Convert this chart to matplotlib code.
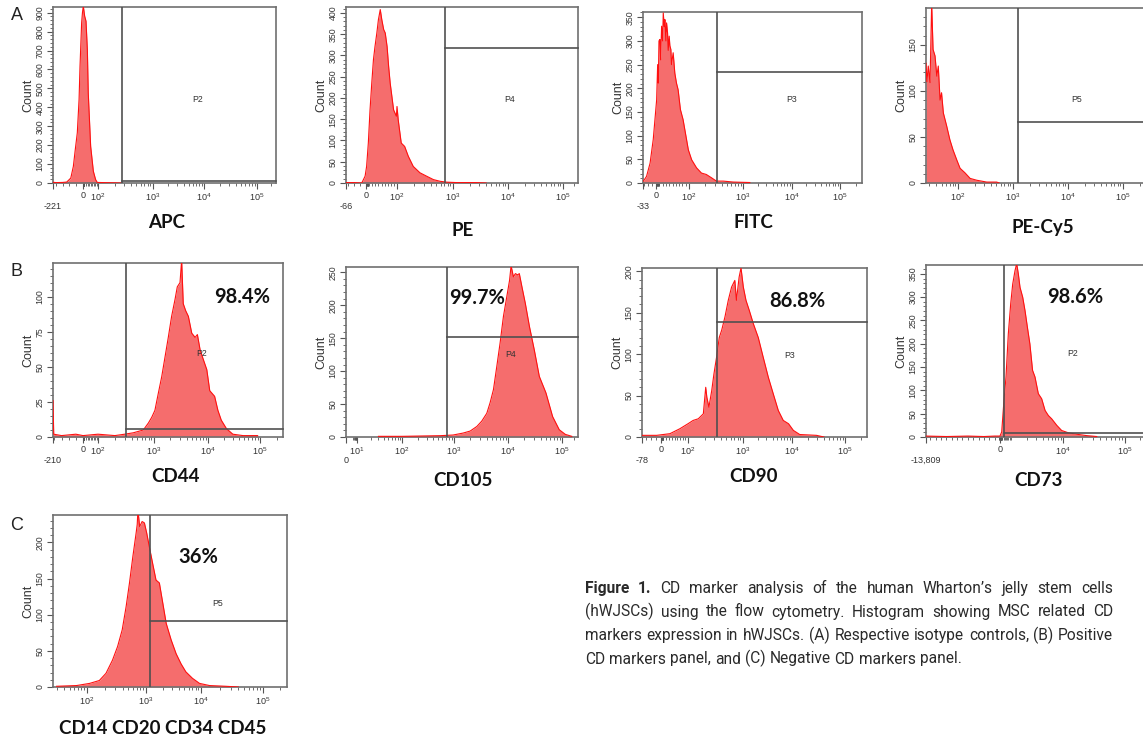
import numpy as np
import matplotlib.pyplot as plt

plt.rcParams['font.family'] = 'Liberation Sans'
plt.rcParams['mathtext.default'] = 'regular'

W, H = 1143, 738

# event counts, x = fluorescence intensity
apc_x = [-221, -200, -150, -120, -90, -71, -57, -42, -29, -22, -10, -4, 2, 11, 20, 29, 35, 51, 69, 84, 95, 130, 200, 260]
apc_n = [4, 2, 3, 5, 26, 88, 176, 265, 441, 617, 847, 900, 935, 882, 855, 705, 476, 194, 62, 18, 3, 2, 1, 0]

pe_x = [-66, -40, -14, -3, 2, 7.5, 13, 18.6, 24, 29, 35, 40, 46, 51, 57, 62, 68, 73, 78, 89, 98,
        100, 105, 119, 137, 159, 195, 257, 338, 447, 588, 770, 1150, 2600, 4000]
pe_n = [1, 1, 0, 16, 39, 94, 172, 235, 290, 321, 353, 384, 408, 384, 361, 353, 321, 274, 235, 172, 157,
        180, 149, 94, 86, 63, 39, 24, 16, 8, 4, 2, 1, 1, 0]

fitc_x = [-32, -24, -15, -7, 2, 5, 7, 9, 12, 14, 17, 20, 22, 25, 27, 30, 32, 35, 37, 40, 42, 45, 47, 52,
          57, 62, 67, 74, 82, 89, 98, 112, 138, 170, 209, 261, 322, 432, 657, 1380]
fitc_n = [4, 14, 42, 92, 176, 250, 211, 300, 303, 260, 331, 300, 359, 330, 345, 300, 338, 317, 280, 310,
          290, 282, 250, 275, 232, 211, 197, 155, 134, 106, 70, 49, 32, 21, 18, 11, 4, 4, 2, 1]

pecy5_x = [26, 27, 28.6, 30.8, 33, 35, 38, 41, 43.6, 47, 50, 54, 62, 71, 81, 95, 109, 134, 166, 219, 333, 505, 560]
pecy5_n = [130, 110, 127, 109, 195, 145, 138, 116, 127, 90, 98, 76, 62, 47, 36, 25, 16, 11, 5, 3, 1, 1, 0]

cd44_x = [-210, -205, -150, -50, 0, 100, 200, 300, 427, 645, 795, 910, 1040, 1200, 1390, 1600, 1840, 2120,
          2450, 2700, 3030, 3250, 3480, 3860, 4330, 5000, 5770, 6360, 7150, 8230, 9500, 10800, 13400,
          15500, 18000, 22600, 30000, 47000, 90000]
cd44_n = [26, 2, 1, 2, 1, 2, 1, 2, 3, 5, 10, 14, 19, 31, 43, 57, 71, 86, 98, 107, 110, 126, 95, 90, 86,
          74, 71, 73, 62, 55, 48, 33, 29, 19, 12, 6, 2, 1, 1]

cd105_x = [30, 100, 545, 960, 1480, 1990, 2650, 3260, 4050, 4660, 5380, 6200, 7120, 8230, 9500, 10700,
           11400, 12600, 13700, 15100, 16200, 18100, 20900, 24900, 30700, 38000, 50400, 67000, 89000,
           122000, 180000]
cd105_n = [1, 1, 2, 3, 6, 9, 16, 24, 36, 52, 72, 107, 142, 183, 213, 238, 260, 243, 248, 246, 248, 228,
           203, 168, 132, 92, 67, 31, 11, 4, 1]

cd90_x = [-78, -18, 33, 70, 100, 124, 154, 190, 210, 220, 240, 270, 296, 330, 370, 410, 470, 540, 620,
          710, 760, 850, 920, 1015, 1150, 1340, 1620, 2050, 2590, 3290, 4150, 5250, 6630, 8500, 10600,
          14000, 29000, 40000]
cd90_n = [2, 2, 4, 10, 16, 20, 22, 28, 60, 48, 36, 56, 76, 96, 120, 129, 145, 165, 181, 189, 165, 193,
          204, 181, 165, 153, 137, 120, 96, 72, 52, 32, 20, 16, 8, 3, 2, 0]

cd73_x = [-13809, -10000, -6000, -3000, -1000, 0, 142, 333, 500, 692, 892, 1032, 1146, 1236, 1330, 1436,
          1620, 1800, 2000, 2240, 2530, 2820, 3280, 3820, 4450, 5170, 6000, 7550, 9400, 12200, 16500,
          24000, 35000]
cd73_n = [2, 1, 2, 1, 2, 2, 11, 79, 129, 221, 286, 328, 357, 372, 350, 321, 300, 271, 236, 200, 143,
          129, 93, 82, 57, 46, 39, 25, 14, 9, 6, 3, 1]

neg_x = [30, 66, 111, 162, 210, 270, 330, 395, 460, 525, 600, 680, 710, 730, 780, 860, 940, 1030, 1150,
         1320, 1520, 1750, 2020, 2330, 2870, 3530, 4340, 5300, 7000, 9400, 13700, 25000, 40000]
neg_n = [1, 2, 5, 9, 19, 37, 56, 79, 111, 144, 181, 213, 225, 245, 222, 229, 227, 213, 194, 171, 148,
         144, 116, 88, 65, 46, 32, 21, 12, 5, 2, 1, 0]

markers = ['APC', 'PE', 'FITC', 'PE-Cy5', 'CD44', 'CD105', 'CD90', 'CD73', 'CD14 CD20 CD34 CD45']
gate_names = ['P2', 'P4', 'P3', 'P5', 'P2', 'P4', 'P3', 'P2', 'P5']
gate_x = [277, 714, 330, 1230, 316, 745, 340, 333, 1200]
gate_y = [10, 318, 234, 66, 5.5, 152, 139, 9, 91]
percents = [None, None, None, None, '98.4%', '99.7%', '86.8%', '98.6%', '36%']
xmins = [-221, -66, -33, 26, -210, 0, -78, -13809, 26]
XMAX = 262143

series = [(apc_x, apc_n), (pe_x, pe_n), (fitc_x, fitc_n), (pecy5_x, pecy5_n), (cd44_x, cd44_n),
          (cd105_x, cd105_n), (cd90_x, cd90_n), (cd73_x, cd73_n), (neg_x, neg_n)]

# layout (pixels): axes left/top/bottom, anchor pixels for the logicle-like x scale
layout = [
    dict(box=(53, 7, 183), ap=[0, 30, 45, 100, 151, 204, 223], t=100, ymax=930, ystep=100, ymin_step=20, neg=50,
         lab=(167, 222), gl=(198, 99)),
    dict(box=(346, 7, 183), ap=[0, 20, 51, 107, 162, 217, 232], t=100, ymax=414, ystep=50, ymin_step=10, neg=20,
         lab=(463, 230), gl=(510, 99)),
    dict(box=(643, 12, 183), ap=[0, 13, 46, 100, 149, 197, 219], t=100, ymax=361, ystep=50, ymin_step=10, neg=10,
         lab=(753, 222), gl=(792, 99)),
    dict(box=(926, 8, 183), ap=[0, 32, 87, 142, 197, 220], t=1, ymax=190, ystep=50, ymin_step=10, neg=None,
         lab=(1043, 228), gl=(1077, 99)),
    dict(box=(53, 263, 437), ap=[0, 30, 45, 101, 155, 207, 230], t=100, ymax=124, ystep=25, ymin_step=5, neg=50,
         lab=(175, 477), gl=(202, 353), pl=(242, 297)),
    dict(box=(346, 267, 437), ap=[0, 11, 56, 108, 162, 216, 232], t=1, ymax=258, ystep=50, ymin_step=10, neg=None,
         lab=(463, 480), gl=(511, 354), pl=(477, 298)),
    dict(box=(642, 268, 437), ap=[0, 19, 46, 101, 150, 203, 225], t=100, ymax=204, ystep=50, ymin_step=10, neg=20,
         lab=(753, 477), gl=(790, 355), pl=(797, 301)),
    dict(box=(926, 265, 437), ap=[0, 74, 86, 137, 199, 220], t=1000, ymax=369, ystep=50, ymin_step=10, neg=1000,
         lab=(1038, 480), gl=(1073, 353), pl=(1075, 297)),
    dict(box=(53, 515, 687), ap=[0, 34, 93, 148, 210, 234], t=1, ymax=238, ystep=50, ymin_step=10, neg=None,
         lab=(163, 728), gl=(218, 603), pl=(198, 557)),
]

FILL = '#f56d6d'
LINE = '#ff1010'
GATE = '#505050'
FRAME = '#707070'


def make_scale(av, ap, t):
    def g(v):
        v = np.asarray(v, dtype=float)
        return np.where(v < t, v / t, 1 + np.log10(np.maximum(v, t) / t))
    gv = g(av)
    ap = np.asarray(ap, dtype=float)

    def fwd(v):
        return np.interp(g(v), gv, ap)

    def inv(p):
        q = np.interp(np.asarray(p, dtype=float), ap, gv)
        return np.where(q < 1, q * t, t * 10 ** (q - 1))
    return fwd, inv


def anchor_values(xmin, t):
    vals = [xmin]
    if xmin < 0:
        vals.append(0)
    if xmin == 0:
        vals.append(10)
    vals += [d for d in (100, 1e3, 1e4, 1e5) if d > xmin and not (t == 1000 and d == 100)]
    return vals + [XMAX]


def tick_values(xmin, t):
    vals = []
    if xmin <= 0:
        vals.append(xmin)
    if xmin < 0:
        vals.append(0)
    if xmin == 0:
        vals.append(10)
    vals += [d for d in (100, 1e3, 1e4, 1e5) if d > xmin and not (t == 1000 and d < 1e4)]
    return vals


def tick_text(v, first):
    if v == 0:
        return '\n0' if first else '0'
    if v < 0:
        return '\n' + format(int(v), ',')
    return '$10^{%d}$' % round(np.log10(v))


fig = plt.figure(figsize=(W / 100, H / 100), dpi=100)

for i, L in enumerate(layout):
    xs, ns = series[i]
    left, top, bottom = L['box']
    ap = L['ap']
    xmin = xmins[i]
    av = anchor_values(xmin, L['t'])
    ax = fig.add_axes([left / W, 1 - bottom / H, ap[-1] / W, (bottom - top) / H])
    ax.set_xscale('function', functions=make_scale(av, ap, L['t']))
    ax.set_xlim(av[0], av[-1])
    ax.set_ylim(0, L['ymax'])

    ax.fill_between(xs, ns, color=FILL, lw=0, zorder=2)
    ax.plot(xs, ns, color=LINE, lw=0.8, zorder=3)
    ax.axvline(gate_x[i], color=GATE, lw=1.2, zorder=4)
    ax.plot([gate_x[i], XMAX], [gate_y[i], gate_y[i]], color=GATE, lw=1.2, zorder=4, clip_on=False)

    for s in ax.spines.values():
        s.set_color(FRAME)
        s.set_linewidth(1.2)

    major = tick_values(xmin, L['t'])
    ax.set_xticks(major, [tick_text(v, k == 0) for k, v in enumerate(major)])
    minor = [m * d for d in (1, 10, 100, 1e3, 1e4, 1e5) for m in range(2, 10)]
    minor = [v for v in minor if xmin < v < XMAX]
    if L['neg']:
        minor += list(-np.arange(L['neg'], -xmin, L['neg']))
    if L['t'] == 1000:
        minor += [-200, -100, 100, 200]
    ax.set_xticks(minor, minor=True)

    ax.set_yticks(np.arange(0, L['ymax'] + 1, L['ystep']))
    ax.set_yticks(np.arange(0, L['ymax'], L['ymin_step']), minor=True)
    ax.tick_params(direction='out', length=4.5, width=0.8, color='#555555', labelsize=6.5,
                   labelcolor='#333333', pad=1.5)
    ax.tick_params(which='minor', direction='out', length=2.4, width=0.6, color='#555555')
    ax.tick_params(axis='y', labelrotation=90, labelsize=6.3)
    for lab in ax.get_yticklabels():
        lab.set_va('center')
    ax.set_ylabel('Count', fontsize=9, labelpad=1, color='#333333')

    lx, ly = L['lab']
    fig.text(lx / W, 1 - ly / H, markers[i], fontsize=13.5, fontweight='bold', family='Lato',
             ha='center', va='center', color='#111111')
    gx, gy = L['gl']
    fig.text(gx / W, 1 - gy / H, gate_names[i], fontsize=6.3, ha='center', va='center', color='#333333')
    if percents[i]:
        px_, py_ = L['pl']
        fig.text(px_ / W, 1 - py_ / H, percents[i], fontsize=14.5, fontweight='bold', family='Lato',
                 ha='center', va='center', color='#111111')

for letter, (lx, ly) in zip('ABC', [(17, 15), (17, 272), (17, 525)]):
    fig.text(lx / W, 1 - ly / H, letter, fontsize=13, ha='center', va='center', color='#222222')

# justified caption
cap_lines = [
    'Figure 1. CD marker analysis of the human Wharton\u2019s jelly stem cells',
    '(hWJSCs) using the flow cytometry. Histogram showing MSC related CD',
    'markers expression in hWJSCs. (A) Respective isotype controls, (B) Positive',
    'CD markers panel, and (C) Negative CD markers panel.',
]
cap_font = ['Liberation Sans Narrow', 'Roboto']
x0, x1 = 585, 1113
fig.canvas.draw()
r = fig.canvas.get_renderer()
for i, line in enumerate(cap_lines):
    words = line.split(' ')
    yb = 593 + i * 23.5
    texts = []
    for j, w in enumerate(words):
        bold = i == 0 and j < 2
        texts.append(fig.text(0, 1 - yb / H, w, fontsize=11.2, family=cap_font,
                              fontweight='bold' if bold else 'normal', va='baseline', color='#2a2a2a'))
    widths = [t.get_window_extent(r).width for t in texts]
    if i < len(cap_lines) - 1:
        gap = (x1 - x0 - sum(widths)) / (len(words) - 1)
    else:
        gap = 4.0
    x = x0
    for t, wd in zip(texts, widths):
        t.set_x(x / W)
        x += wd + gap

fig.savefig('out.png', dpi=100)
